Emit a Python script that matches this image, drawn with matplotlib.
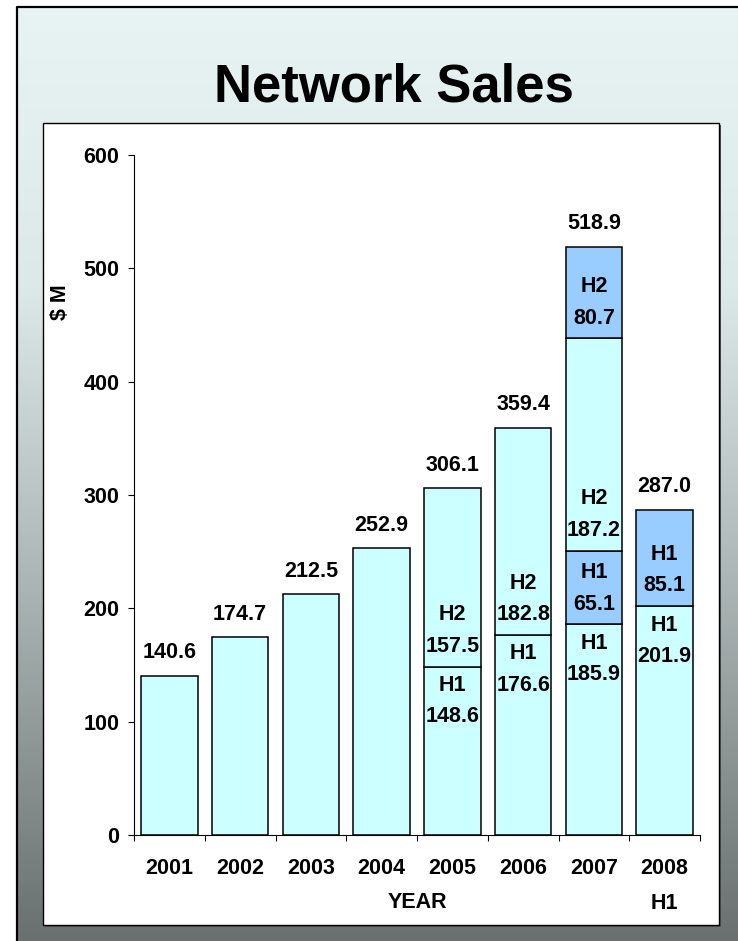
import matplotlib
matplotlib.use('Agg')
import matplotlib.pyplot as plt
import numpy as np
from matplotlib.colors import LinearSegmentedColormap
from matplotlib.patches import Rectangle

plt.rcParams['font.family'] = ['Liberation Sans', 'DejaVu Sans']
plt.rcParams['font.weight'] = 'bold'

# data
years = ['2001', '2002', '2003', '2004', '2005', '2006', '2007', '2008\nH1']
seg_values = [[140.6], [174.7], [212.5], [252.9],
              [148.6, 157.5], [176.6, 182.8],
              [185.9, 65.1, 187.2, 80.7], [201.9, 85.1]]
seg_half = [[''], [''], [''], [''],
            ['H1', 'H2'], ['H1', 'H2'],
            ['H1', 'H1', 'H2', 'H2'], ['H1', 'H1']]
seg_group = [[0], [0], [0], [0], [0, 0], [0, 0], [0, 1, 0, 1], [0, 1]]

colors = ['#ccffff', '#99ccff']
fs = 15.5

fig = plt.figure(figsize=(7.38, 9.41), dpi=100)

# background panel (pixel coordinates)
bg = fig.add_axes([0, 0, 1, 1], zorder=-10)
bg.set_xlim(0, 738)
bg.set_ylim(941, 0)
bg.axis('off')
cmap = LinearSegmentedColormap.from_list(
    'panel', [(0, '#e8f4f4'), (0.3, '#dde8e8'), (0.63, '#aab3b3'), (1, '#6a7070')])
grad = np.linspace(0, 1, 256).reshape(-1, 1)
bg.imshow(grad, cmap=cmap, aspect='auto', extent=[17, 740, 941, 7], zorder=0)
bg.plot([17, 17, 740], [945, 7, 7], color='black', lw=1.6, zorder=1)
bg.add_patch(Rectangle((45, 125), 676, 802, facecolor='#555555', edgecolor='none', zorder=1))
bg.add_patch(Rectangle((43, 123), 676, 802, facecolor='white', edgecolor='black', lw=1.0, zorder=2))

fig.text(394 / 738, 1 - 101 / 941, 'Network Sales', ha='center', va='baseline',
         fontsize=38, fontweight='bold')

# chart
ax = fig.add_axes([134 / 738, 1 - 835 / 941, 566 / 738, 680 / 941])
ax.set_facecolor('none')
x = np.arange(len(years))
for i in range(len(years)):
    bottom = 0
    n = len(seg_values[i])
    for j, v in enumerate(seg_values[i]):
        ax.bar(x[i], v, 0.8, bottom=bottom, color=colors[seg_group[i][j]],
               edgecolor='black', linewidth=1.1, zorder=2)
        if n > 1:
            txt = f'{seg_half[i][j]}\n{v:.1f}'
            if j == 0:
                ax.annotate(txt, (x[i], bottom + v), xytext=(0, -6), textcoords='offset points',
                            ha='center', va='top', fontsize=fs, linespacing=1.65, zorder=3)
            else:
                ax.annotate(txt, (x[i], bottom), xytext=(0, 7), textcoords='offset points',
                            ha='center', va='bottom', fontsize=fs, linespacing=1.65, zorder=3)
        bottom += v
    ax.annotate(f'{sum(seg_values[i]):.1f}', (x[i], bottom), xytext=(0, 9),
                textcoords='offset points', ha='center', va='bottom', fontsize=fs)

ax.set_xlim(-0.5, len(years) - 0.5)
ax.set_ylim(0, 600)
ax.set_yticks(range(0, 601, 100))
ax.set_xticks(np.arange(-0.5, len(years), 1))
ax.set_xticklabels([])
ax.set_xticks(x, minor=True)
ax.set_xticklabels(years, minor=True, fontsize=fs, linespacing=1.85)
ax.tick_params(axis='x', which='minor', length=0, pad=16.5)
ax.tick_params(axis='x', which='major', length=4.5, width=0.8, direction='out')
ax.tick_params(axis='y', length=4.5, width=0.8, direction='out', pad=6, labelsize=fs)
for s in ['top', 'right']:
    ax.spines[s].set_visible(False)
for s in ['left', 'bottom']:
    ax.spines[s].set_linewidth(0.8)

fig.text(417 / 738, 1 - 903 / 941, 'YEAR', ha='center', va='center',
         fontsize=fs, fontweight='bold')
fig.text(60 / 738, 1 - 302 / 941, '$ M', rotation=90, ha='center', va='center',
         fontsize=fs, fontweight='bold')

plt.savefig('out.png', dpi=100)
